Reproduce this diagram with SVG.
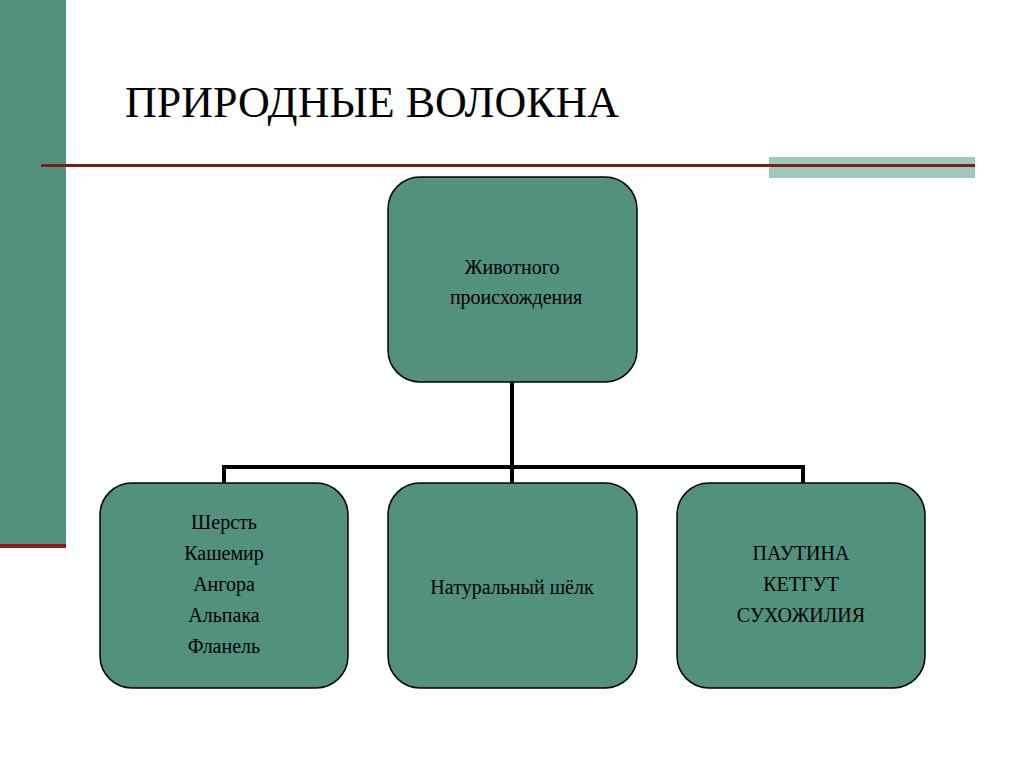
<svg xmlns="http://www.w3.org/2000/svg" width="1024" height="767" viewBox="0 0 1024 767">
<style>
.box{fill:#51917E;stroke:#000;stroke-width:1.5}
.t{font-family:"Liberation Serif",serif;font-size:20px;fill:#000;text-anchor:middle}
.c{stroke:#000;stroke-width:4;fill:none}
</style>
<rect width="1024" height="767" fill="#fff"/>
<rect x="0" y="0" width="66" height="545" fill="#51917E"/>
<rect x="0" y="544" width="66" height="4" fill="#8B1A1A"/>
<rect x="769" y="157" width="206" height="21" fill="#A0C8BA"/>
<rect x="41" y="164" width="934" height="3" fill="#8B1A1A"/>
<line x1="41" y1="165.5" x2="975" y2="165.5" stroke="#5a2a22" stroke-width="1"/>
<text x="125" y="117" font-family="Liberation Serif,serif" font-size="44" fill="#000">ПРИРОДНЫЕ ВОЛОКНА</text>
<g id="connectors">
<path class="c" d="M512 382V467M224 483V467H803V483M512 467V483"/>
</g>
<g id="top"><rect class="box" x="388" y="177" width="249" height="205" rx="32"/>
<text class="t" x="512" y="274">Животного</text><text class="t" x="516" y="304">происхождения</text></g>
<g id="wool"><rect class="box" x="100" y="483" width="248" height="205" rx="32"/>
<text class="t" x="224" y="529">Шерсть</text><text class="t" x="224" y="560">Кашемир</text><text class="t" x="224" y="591">Ангора</text><text class="t" x="224" y="622">Альпака</text><text class="t" x="224" y="653">Фланель</text></g>
<g id="silk"><rect class="box" x="388" y="483" width="249" height="205" rx="32"/>
<text class="t" x="512" y="594">Натуральный шёлк</text></g>
<g id="other"><rect class="box" x="677" y="483" width="248" height="205" rx="32"/>
<text class="t" x="801" y="560">ПАУТИНА</text><text class="t" x="801" y="591">КЕТГУТ</text><text class="t" x="801" y="622">СУХОЖИЛИЯ</text></g>
</svg>
